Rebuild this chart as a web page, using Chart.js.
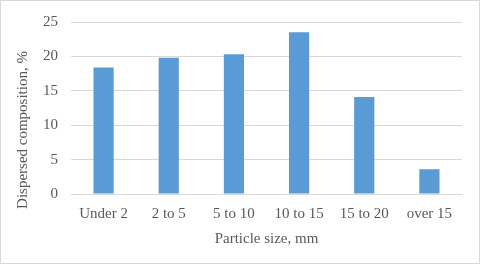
<!DOCTYPE html>
<html>
<head>
<meta charset="utf-8">
<script src="https://cdn.jsdelivr.net/npm/chart.js@4"></script>
<style>
  body { margin: 0; background: #fff; }
  #wrap { width: 480px; height: 264px; position: relative; }
</style>
</head>
<body>
<div id="wrap"><canvas id="chart" width="480" height="264"></canvas></div>
<script>
const categories = ["Under 2", "2 to 5", "5 to 10", "10 to 15", "15 to 20", "over 15"];
const composition = [18.4, 19.8, 20.3, 23.5, 14.1, 3.6];
const yTicks = [0, 5, 10, 15, 20, 25];
const yTitle = "Dispersed composition, %";

const textColor = "#595959";
const serif = "'Liberation Serif', 'Times New Roman', serif";

// white background, light frame, and the y title (it sits lower than the plot centre)
const framePlugin = {
  id: "frame",
  beforeDraw(chart) {
    const ctx = chart.ctx;
    ctx.save();
    ctx.fillStyle = "#fff";
    ctx.fillRect(0, 0, chart.width, chart.height);
    ctx.restore();
  },
  afterDraw(chart) {
    const ctx = chart.ctx;
    ctx.save();
    ctx.strokeStyle = "#d9d9d9";
    ctx.lineWidth = 1;
    ctx.strokeRect(0.5, 0.5, chart.width - 1, chart.height - 1);

    ctx.translate(23, 130);
    ctx.rotate(-Math.PI / 2);
    ctx.fillStyle = textColor;
    ctx.font = "15px " + serif;
    ctx.textAlign = "center";
    ctx.textBaseline = "middle";
    ctx.fillText(yTitle, 0, 0);
    ctx.restore();
  }
};

const ctx = document.getElementById("chart").getContext("2d");
new Chart(ctx, {
  type: "bar",
  data: {
    labels: categories,
    datasets: [{
      data: composition,
      backgroundColor: "#5b9bd5",
      barPercentage: 0.31,
      categoryPercentage: 1
    }]
  },
  options: {
    responsive: false,
    animation: false,
    layout: { padding: { left: 0, right: 18, top: 17, bottom: 0 } },
    plugins: { legend: { display: false }, tooltip: { enabled: false } },
    scales: {
      x: {
        grid: { display: false, drawTicks: false },
        border: { color: "#d9d9d9" },
        ticks: { color: textColor, font: { family: serif, size: 15 }, padding: 11, maxRotation: 0 },
        title: { display: true, text: "Particle size, mm", color: textColor, font: { family: serif, size: 15 }, padding: { bottom: 16 } },
        afterFit(scale) { scale.height = 70; }
      },
      y: {
        min: 0,
        max: 25,
        afterBuildTicks(scale) { scale.ticks = yTicks.map(v => ({ value: v })); },
        grid: { color: "#d9d9d9", drawTicks: false },
        border: { display: false },
        ticks: { color: textColor, font: { family: serif, size: 15 }, padding: 13 },
        afterFit(scale) { scale.width = 71; }
      }
    }
  },
  plugins: [framePlugin]
});
</script>
</body>
</html>
